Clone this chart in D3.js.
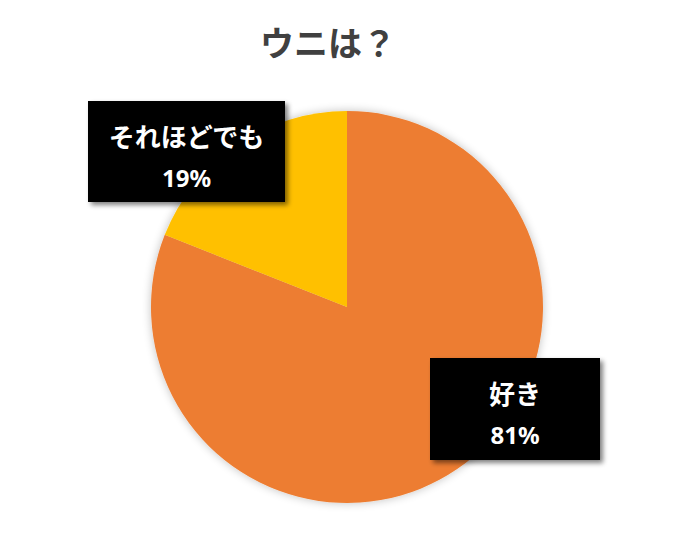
<!DOCTYPE html>
<html>
<head>
<meta charset="utf-8">
<script src="https://cdn.jsdelivr.net/npm/d3@7"></script>
<style>
  body { margin: 0; background: #fff; }
</style>
</head>
<body>
<div id="chart"></div>
<script>
// pie data: "ウニは？" survey
const categories = ["好き", "それほどでも"];
const values = [81, 19];
const colors = ["#ED7D31", "#FFC000"];
const title = "ウニは？";

const width = 684, height = 543;
const cx = 347, cy = 307, radius = 196;

const svg = d3.select("#chart").append("svg")
    .attr("width", width).attr("height", height)
    .attr("viewBox", [0, 0, width, height]);

const defs = svg.append("defs");
const pieShadow = defs.append("filter").attr("id", "pieShadow")
    .attr("x", "-20%").attr("y", "-20%").attr("width", "140%").attr("height", "140%");
pieShadow.append("feGaussianBlur").attr("in", "SourceAlpha").attr("stdDeviation", 5);
pieShadow.append("feComponentTransfer").append("feFuncA").attr("type", "linear").attr("slope", 0.25);
let m1 = pieShadow.append("feMerge");
m1.append("feMergeNode");
m1.append("feMergeNode").attr("in", "SourceGraphic");

const boxShadow = defs.append("filter").attr("id", "boxShadow")
    .attr("x", "-20%").attr("y", "-20%").attr("width", "140%").attr("height", "140%");
boxShadow.append("feGaussianBlur").attr("in", "SourceAlpha").attr("stdDeviation", 2.5);
boxShadow.append("feOffset").attr("dx", 3).attr("dy", 3).attr("result", "off");
boxShadow.append("feComponentTransfer").append("feFuncA").attr("type", "linear").attr("slope", 0.5);
let m2 = boxShadow.append("feMerge");
m2.append("feMergeNode");
m2.append("feMergeNode").attr("in", "SourceGraphic");

svg.append("text")
    .attr("x", 328).attr("y", 56)
    .attr("text-anchor", "middle")
    .attr("font-family", "'Noto Sans CJK JP', sans-serif")
    .attr("font-weight", "bold")
    .attr("font-size", 34)
    .attr("fill", "#404040")
    .text(title);

const data = categories.map((c, i) => ({name: c, value: values[i], color: colors[i]}));

const pie = d3.pie().value(d => d.value).sort(null);
const arc = d3.arc().innerRadius(0).outerRadius(radius);

const g = svg.append("g")
    .attr("transform", `translate(${cx},${cy})`)
    .attr("filter", "url(#pieShadow)");

g.selectAll("path")
    .data(pie(data))
    .join("path")
    .attr("d", arc)
    .attr("fill", d => d.data.color);

// label boxes (placed like the excel data labels)
const labelBoxes = [
    {x: 430, y: 358, w: 170, h: 102},
    {x: 88, y: 101, w: 197, h: 101}
];

const lbl = svg.selectAll(".lbl")
    .data(data)
    .join("g")
    .attr("class", "lbl");

lbl.append("rect")
    .attr("x", (d, i) => labelBoxes[i].x)
    .attr("y", (d, i) => labelBoxes[i].y)
    .attr("width", (d, i) => labelBoxes[i].w)
    .attr("height", (d, i) => labelBoxes[i].h)
    .attr("fill", "#000")
    .attr("filter", "url(#boxShadow)");

lbl.append("text")
    .attr("x", (d, i) => labelBoxes[i].x + labelBoxes[i].w / 2)
    .attr("y", (d, i) => labelBoxes[i].y + 46)
    .attr("text-anchor", "middle")
    .attr("font-family", "'Noto Sans CJK JP', sans-serif")
    .attr("font-weight", "bold")
    .attr("font-size", 26)
    .attr("fill", "#fff")
    .text(d => d.name);

lbl.append("text")
    .attr("x", (d, i) => labelBoxes[i].x + labelBoxes[i].w / 2)
    .attr("y", (d, i) => labelBoxes[i].y + 86)
    .attr("text-anchor", "middle")
    .attr("font-family", "'Noto Sans', sans-serif")
    .attr("font-weight", "bold")
    .attr("font-size", 24)
    .attr("fill", "#fff")
    .text(d => d.value + "%");
</script>
</body>
</html>
